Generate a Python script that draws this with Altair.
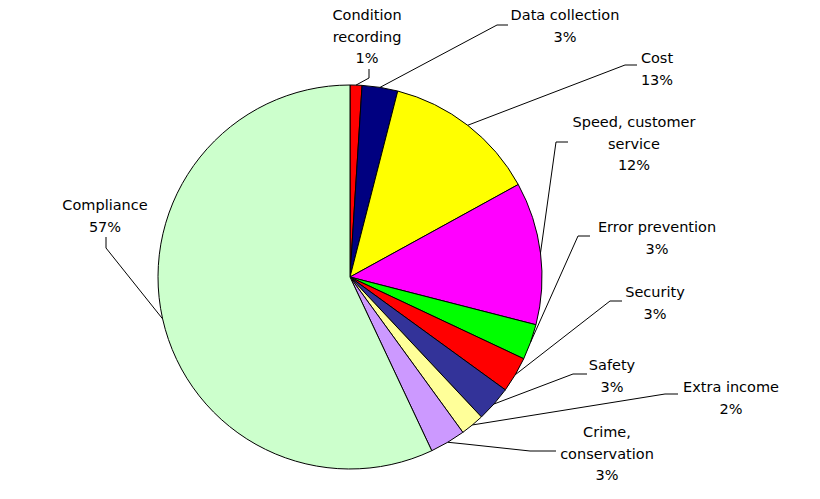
import math
import altair as alt
import pandas as pd

# ---- data ----
categories = ["Condition\nrecording", "Data collection", "Cost", "Speed, customer\nservice",
              "Error prevention", "Security", "Safety", "Extra income",
              "Crime,\nconservation", "Compliance"]
values = [1, 3, 13, 12, 3, 3, 3, 2, 3, 57]
colors = ["#FF0000", "#000080", "#FFFF00", "#FF00FF", "#00FF00", "#FF0000",
          "#333399", "#FFFF99", "#CC99FF", "#CCFFCC"]

# ---- layout (page pixel coordinates) ----
CX, CY, R = 350, 277, 192
label_pos = [(367, 15), (565, 15), (657, 58), (634, 122), (657, 227), (655, 292),
             (612, 365), (731, 387), (607, 432), (105, 205)]
leader_elbows = [[(369, 69), (369, 78)], [(508, 25), (497, 25)], [(637, 65), (625, 65)],
                 [(568, 142), (556, 142)], [(590, 236), (578, 236)], [(622, 301), (610, 301)],
                 [(587, 374), (573, 374)], [(678, 394), (665, 394)],
                 [(556, 451), (530, 451), (465, 444)], [(106, 237), (106, 248)]]
FONT = "DejaVu Sans"
FS = 14.5
LH = 21.5

n = len(categories)
total = sum(values)
pie_df = pd.DataFrame({"cat": categories, "value": values, "order": list(range(n))})

# leader lines: from label elbow to slice mid-angle on the rim
rows = []
cum = 0
for i, v in enumerate(values):
    mid = (cum + v / 2) / total * 2 * math.pi
    cum += v
    pts = leader_elbows[i] + [(CX + R * math.sin(mid), CY - R * math.cos(mid))]
    for j, (px, py) in enumerate(pts):
        rows.append({"id": i, "idx": j, "x": px, "y": py})
line_df = pd.DataFrame(rows)

lab_df = pd.DataFrame({
    "text": [f"{c}\n{v}%" for c, v in zip(categories, values)],
    "x": [p[0] for p in label_pos],
    "y": [p[1] - 6 for p in label_pos],
})

xs = alt.Scale(domain=[8, 812], zero=False, nice=False)
ys = alt.Scale(domain=[8, 491], zero=False, nice=False, reverse=True)

pie = alt.Chart(pie_df).mark_arc(radius=R, stroke="black", strokeWidth=1).encode(
    theta=alt.Theta("value:Q", stack=True),
    color=alt.Color("cat:N", scale=alt.Scale(domain=categories, range=colors), legend=None),
    order=alt.Order("order:Q"),
    x=alt.value(CX - 8),
    y=alt.value(CY - 8),
)

leaders = alt.Chart(line_df).mark_line(color="black", strokeWidth=1).encode(
    x=alt.X("x:Q", scale=xs, axis=None),
    y=alt.Y("y:Q", scale=ys, axis=None),
    detail="id:N",
    order="idx:Q",
)

labels = alt.Chart(lab_df).mark_text(
    lineBreak="\n", baseline="top", align="center", font=FONT, fontSize=FS,
    lineHeight=LH, color="black"
).encode(
    x=alt.X("x:Q", scale=xs, axis=None),
    y=alt.Y("y:Q", scale=ys, axis=None),
    text="text:N",
)

chart = alt.layer(pie, leaders, labels).properties(
    width=804, height=483, autosize="none", padding=0
).configure_view(stroke=None)

chart.save("out.html", embed_options={"renderer": "svg", "actions": False})
